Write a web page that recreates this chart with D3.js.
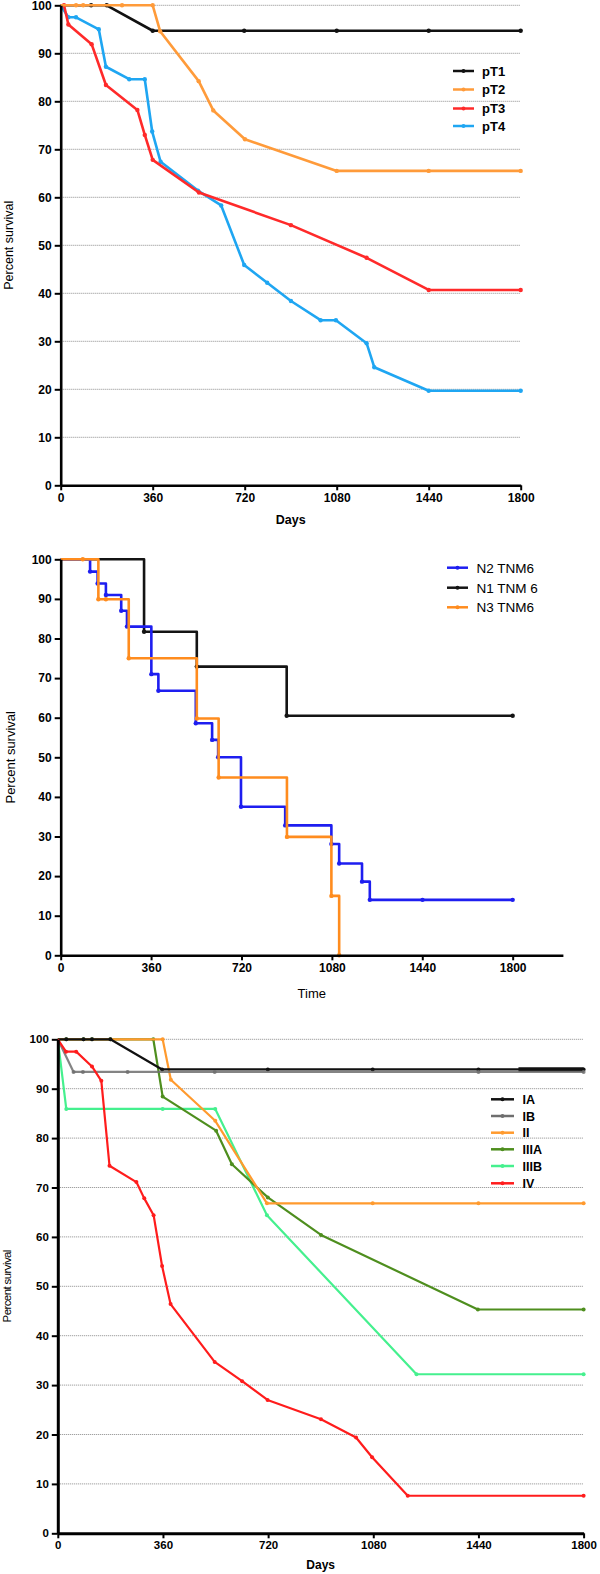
<!DOCTYPE html>
<html><head><meta charset="utf-8">
<script src="https://cdn.jsdelivr.net/npm/d3@7"></script>
<style>
body{margin:0;background:#fff;}
svg{display:block;font-family:"Liberation Sans",Arial,Helvetica,sans-serif;}
</style></head>
<body>
<svg id="c" width="600" height="1574"></svg>
<script>
// ---------- data ----------
const xTicks = [0, 360, 720, 1080, 1440, 1800];
const yTicks = [0, 10, 20, 30, 40, 50, 60, 70, 80, 90, 100];
const gridTicks = [10, 20, 30, 40, 50, 60, 70, 80, 90, 100];

// Panel 1: pT stage
const p1Names = ["pT1", "pT2", "pT3", "pT4"];
const p1Colors = ["#111111", "#ff9b3a", "#ff2a2a", "#1fa6f2"];
const pT1 = [[0,100],[119,100],[180,100],[360,94.7],[718,94.7],[1080,94.7],[1440,94.7],[1800,94.7]];
const pT2 = [[0,100],[60,100],[88,100],[240,100],[360,100],[389,94.6],[540,84.2],[597,78.1],[721,72.1],[1080,65.5],[1440,65.5],[1800,65.5]];
const pT3 = [[0,100],[13,100],[30,96.0],[121,91.9],[177,83.4],[300,78.2],[329,73.0],[360,67.8],[541,61.0],[901,54.2],[1197,47.4],[1440,40.7],[1800,40.7]];
const pT4 = [[0,100],[30,97.5],[60,97.5],[149,95.0],[177,87.2],[268,84.6],[329,84.6],[358,73.7],[391,67.4],[537,61.4],[628,58.3],[718,45.9],[808,42.2],[901,38.4],[1017,34.4],[1077,34.4],[1197,29.6],[1227,24.6],[1440,19.7],[1800,19.7]];

// Panel 2: N stage (Kaplan-Meier steps)
const p2Names = ["N2 TNM6", "N1 TNM 6", "N3 TNM6"];
const p2Colors = ["#1e1ef0", "#141414", "#ff8c1e"];
const N2 = [[0,100],[117,96.9],[147,93.9],[180,91.0],[241,87.0],[264,83.0],[361,71.0],[389,66.8],[538,58.6],[603,54.4],[627,50.0],[718,37.5],[894,32.8],[1078,28.1],[1109,23.2],[1200,18.6],[1231,14.0],[1441,14.0],[1800,14.0]];
const N1 = [[0,100],[332,81.7],[542,72.9],[900,60.5],[1800,60.5]];
const N3 = [[0,100],[88,100],[150,89.9],[180,89.9],[271,75.0],[542,59.8],[629,44.9],[901,29.9],[1078,15.0],[1109,0]];

// Panel 3: TNM stage
const p3Names = ["IA", "IB", "II", "IIIA", "IIIB", "IV"];
const p3Colors = ["#111111", "#6e6e6e", "#ff9a2e", "#4e8e1e", "#45f08e", "#ff1c1c"];
const IA = [[0,100],[29,100],[88,100],[117,100],[180,100],[357,93.9],[719,93.9],[1078,93.9],[1440,93.9],[1800,93.9]];
const IAdense = [[1577,93.9],[1800,93.9]];
const IB = [[0,100],[54,93.4],[86,93.4],[239,93.4],[537,93.4],[1440,93.4],[1800,93.4]];
const II = [[0,100],[359,100],[387,91.8],[539,83.5],[716,66.8],[1078,66.8],[1440,66.8],[1800,66.8]];
const IIIA = [[0,100],[29,100],[88,100],[117,100],[180,100],[327,100],[359,88.4],[542,81.5],[596,74.7],[719,68.0],[901,60.4],[1438,45.3],[1800,45.3]];
const IIIB = [[0,100],[29,85.9],[359,85.9],[539,85.9],[716,64.4],[1228,32.2],[1800,32.2]];
const IV = [[0,100],[28,97.5],[63,97.5],[117,94.5],[149,91.6],[177,74.4],[269,71.1],[296,67.8],[328,64.4],[357,54.1],[386,46.4],[537,34.7],[631,30.8],[718,27.0],[901,23.1],[1021,19.4],[1076,15.4],[1198,7.6],[1800,7.6]];

// ---------- drawing ----------
const svg = d3.select("#c");
const fmt = d3.format("d");

function panel(cfg) {
  const g = svg.append("g");
  const x = d3.scaleLinear().domain(cfg.xDomain).range(cfg.xRange);
  const y = d3.scaleLinear().domain([0, 100]).range(cfg.yRange);

  if (cfg.grid) {
    g.append("g").selectAll("line").data(gridTicks).join("line")
      .attr("x1", x(0)).attr("x2", cfg.gridEnd)
      .attr("y1", d => y(d)).attr("y2", d => y(d))
      .attr("stroke", "#8a8a8a").attr("stroke-width", 1)
      .attr("stroke-dasharray", "1,1");
  }

  const line = d3.line().x(d => x(d[0])).y(d => y(d[1])).curve(cfg.curve);
  cfg.series.forEach((s) => {
    const sg = g.append("g");
    sg.append("path").datum(s.data)
      .attr("d", line).attr("fill", "none")
      .attr("stroke", s.color).attr("stroke-width", s.width || cfg.lineWidth)
      .attr("stroke-linejoin", "round").attr("stroke-opacity", s.opacity || 1);
    if (s.dense) {
      sg.append("path").datum(s.dense).attr("d", d3.line().x(d => x(d[0])).y(d => y(d[1])))
        .attr("stroke", s.color).attr("stroke-width", 4.5).attr("fill", "none");
    }
    sg.selectAll("circle").data(s.data.slice(1)).join("circle")
      .attr("cx", d => x(d[0])).attr("cy", d => y(d[1])).attr("r", cfg.dotR)
      .attr("fill", s.color).attr("fill-opacity", s.opacity || 1);
  });

  const xa = g.append("g").attr("transform", `translate(0,${y(0)})`)
    .call(d3.axisBottom(x).tickValues(xTicks).tickFormat(fmt).tickSize(5).tickPadding(3).tickSizeOuter(0));
  const ya = g.append("g").attr("transform", `translate(${x(0)},0)`)
    .call(d3.axisLeft(y).tickValues(yTicks).tickFormat(fmt).tickSize(6).tickPadding(3).tickSizeOuter(0));
  [xa, ya].forEach(a => {
    a.select(".domain").attr("stroke", "#000").attr("stroke-width", cfg.axisWidth);
    a.selectAll(".tick line").attr("stroke", "#000").attr("stroke-width", 2);
    a.selectAll(".tick text").attr("fill", "#000")
      .style("font-size", cfg.tickFont + "px").style("font-weight", cfg.tickWeight)
      .style("font-family", '"Liberation Sans",Arial,sans-serif');
  });

  g.append("text").attr("x", (cfg.xRange[0] + cfg.xRange[1]) / 2).attr("y", cfg.xTitleY)
    .attr("text-anchor", "middle").style("font-size", cfg.xTitleSize + "px")
    .style("font-weight", cfg.xTitleWeight).text(cfg.xTitle);
  g.append("text").attr("transform", `translate(${cfg.yTitleX},${(cfg.yRange[0] + cfg.yRange[1]) / 2}) rotate(-90)`)
    .attr("text-anchor", "middle").style("font-size", cfg.yTitleSize + "px")
    .style("letter-spacing", cfg.yTitleSpacing + "px").text("Percent survival");

  const lg = g.append("g");
  cfg.legend.names.forEach((n, i) => {
    const ly = cfg.legend.ys[i];
    lg.append("line").attr("x1", cfg.legend.x1).attr("x2", cfg.legend.x2)
      .attr("y1", ly).attr("y2", ly).attr("stroke", cfg.legend.colors[i]).attr("stroke-width", 2.5);
    lg.append("circle").attr("cx", (cfg.legend.x1 + cfg.legend.x2) / 2).attr("cy", ly).attr("r", 2)
      .attr("fill", cfg.legend.colors[i]);
    lg.append("text").attr("x", cfg.legend.tx).attr("y", ly).attr("dy", "0.36em")
      .style("font-size", cfg.legend.size + "px").style("font-weight", cfg.legend.weight)
      .text(n);
  });
}

panel({
  xDomain: [0, 1800], xRange: [60.7, 520.7], yRange: [485.3, 5.3],
  grid: true, gridEnd: 520.7, curve: d3.curveLinear, lineWidth: 2.6, dotR: 2.2,
  axisWidth: 2.6, tickFont: 12, tickWeight: "bold",
  xTitle: "Days", xTitleY: 524, xTitleSize: 12.5, xTitleWeight: "bold",
  yTitleX: 13, yTitleSize: 12.5, yTitleSpacing: 0,
  series: [
    {data: pT1, color: p1Colors[0]},
    {data: pT4, color: p1Colors[3]},
    {data: pT3, color: p1Colors[2]},
    {data: pT2, color: p1Colors[1]}
  ],
  legend: {names: p1Names, colors: p1Colors, ys: [71, 89.5, 108.5, 126], x1: 453, x2: 474, tx: 482,
           size: 13, weight: "bold"}
});

panel({
  xDomain: [0, 2000], xRange: [60.7, 562.9], yRange: [955.3, 559.3],
  grid: false, curve: d3.curveStepAfter, lineWidth: 2.6, dotR: 2.2,
  axisWidth: 2.6, tickFont: 12, tickWeight: "bold",
  xTitle: "Time", xTitleY: 998, xTitleSize: 13, xTitleWeight: "normal",
  yTitleX: 15, yTitleSize: 13, yTitleSpacing: 0,
  series: [
    {data: N1, color: p2Colors[1]},
    {data: N2, color: p2Colors[0]},
    {data: N3, color: p2Colors[2]}
  ],
  legend: {names: p2Names, colors: p2Colors, ys: [567.7, 587.7, 607.3], x1: 447, x2: 468, tx: 476.5,
           size: 13.5, weight: "normal"}
});

panel({
  xDomain: [0, 1800], xRange: [57.8, 583.6], yRange: [1533.3, 1039.3],
  grid: true, gridEnd: 583.6, curve: d3.curveLinear, lineWidth: 2.2, dotR: 2,
  axisWidth: 3, tickFont: 11.5, tickWeight: "bold",
  xTitle: "Days", xTitleY: 1569, xTitleSize: 12, xTitleWeight: "bold",
  yTitleX: 11, yTitleSize: 11.5, yTitleSpacing: -0.6,
  series: [
    {data: IIIB, color: p3Colors[4]},
    {data: IIIA, color: p3Colors[3]},
    {data: II, color: p3Colors[2]},
    {data: IA, color: p3Colors[0], dense: IAdense},
    {data: IB, color: p3Colors[1], opacity: 0.85},
    {data: IV, color: p3Colors[5]}
  ],
  legend: {names: p3Names, colors: p3Colors, ys: [1099.3, 1116, 1132.7, 1149.3, 1166, 1183.3], x1: 491, x2: 514, tx: 522.5,
           size: 12.5, weight: "bold"}
});
</script>
</body></html>
